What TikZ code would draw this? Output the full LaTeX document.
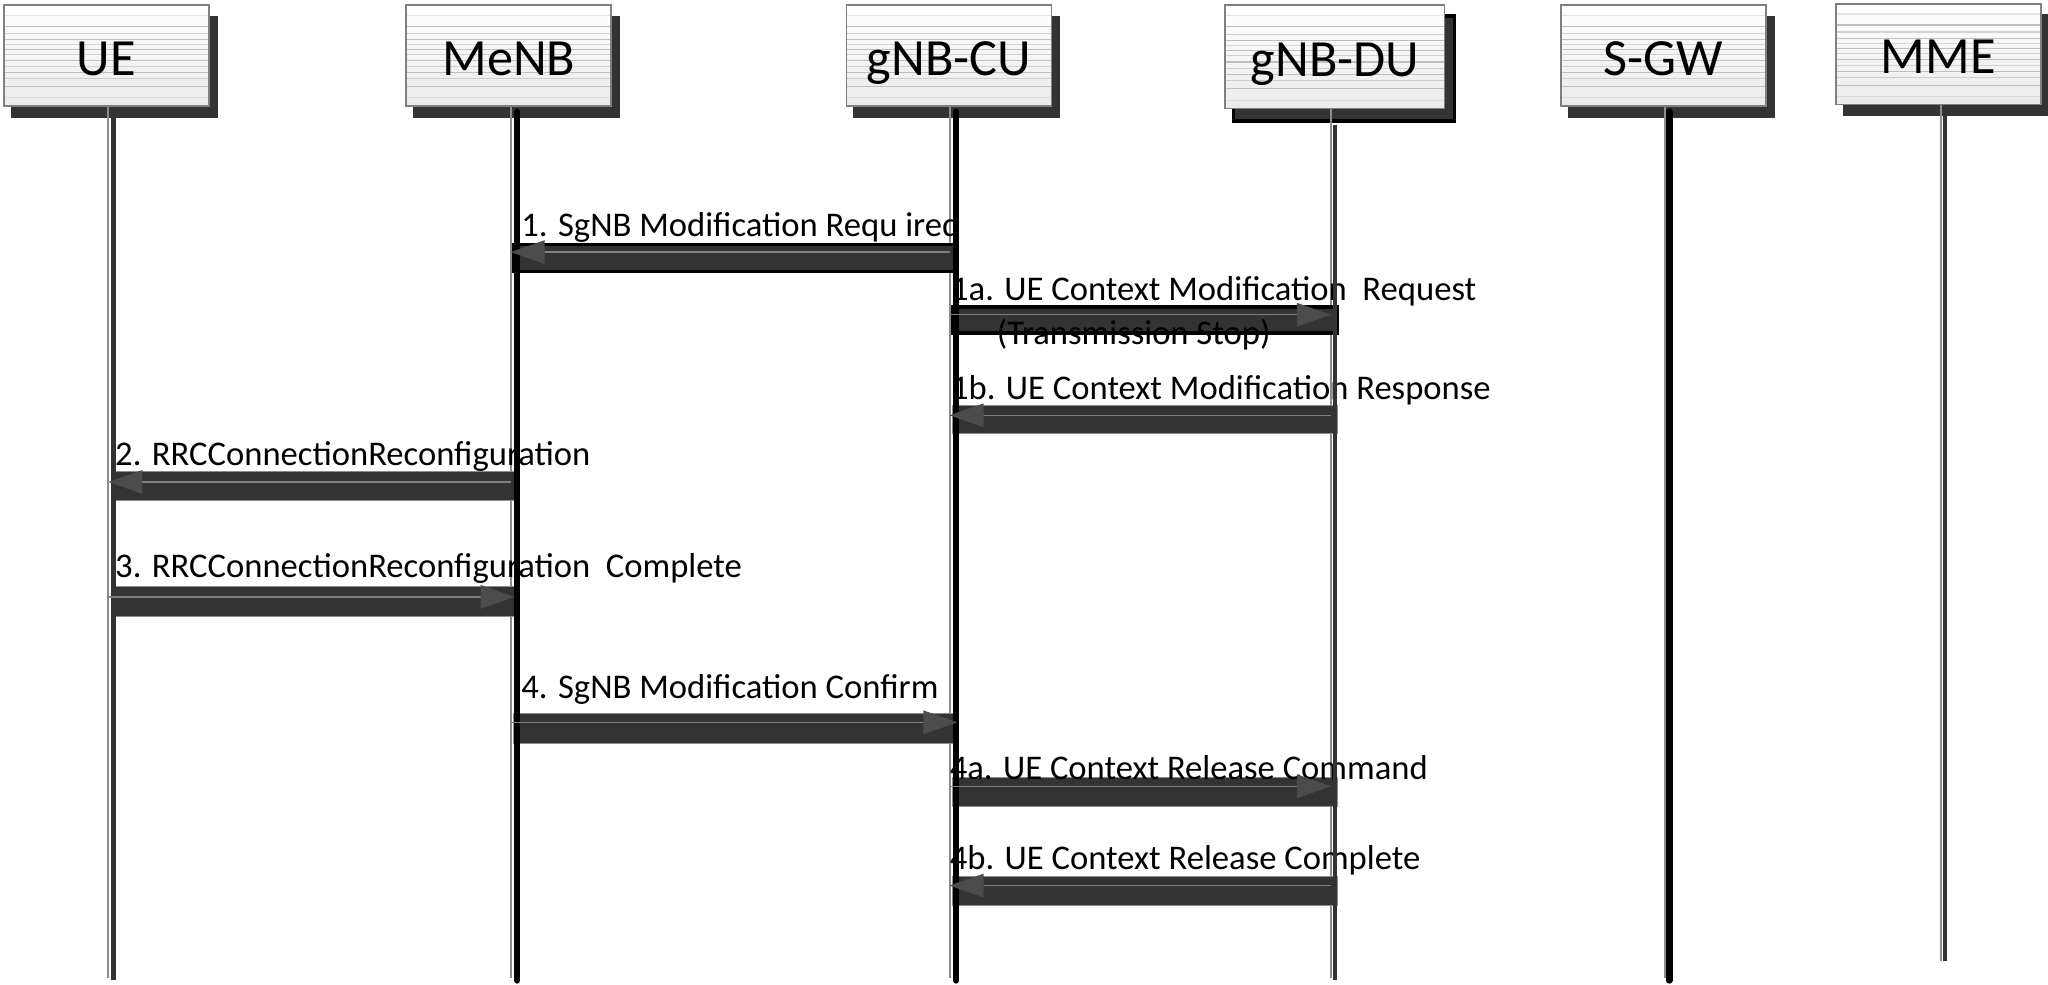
\documentclass[tikz,border=0pt]{standalone}
\usepackage{fontspec}
\setmainfont{Carlito}
\usepackage{tikz}
\usetikzlibrary{arrows.meta}
\usetikzlibrary{calc}
\pgfdeclarelayer{background}
\pgfsetlayers{background,main}

\begin{document}
\begin{tikzpicture}[x=1pt,y=-1pt,
entity/.style={draw=black!50,line width=1.2pt,top color=white,bottom color=black!8,minimum width=157pt,minimum height=77pt,inner sep=0pt,text height=36pt,text depth=6pt,font=\fontsize{40}{40}\selectfont,
 path picture={\foreach \f/\c in {0.1/10,0.21/25,0.28/18,0.34/25,0.39/16,0.44/25,0.49/18,0.55/25,0.61/18,0.67/25,0.73/20,0.81/25,0.92/14}
 \draw[black!\c,line width=0.9pt] ($(path picture bounding box.north west)!\f!(path picture bounding box.south west)$) -- ($(path picture bounding box.north east)!\f!(path picture bounding box.south east)$);}},
shadowbox/.style={fill=black!80},
lifethin/.style={draw=black!45,line width=1.5pt},
lifeblack/.style={draw=black,line width=5pt,line cap=round},
lifegray/.style={draw=black!80,line width=3.5pt},
msgbar/.style={fill=black!80,draw=black!45,line width=0.6pt},
msgbox/.style={fill=black!80,draw=black,line width=2.5pt},
msg/.style={draw=black!50,line width=1pt,-{Triangle[length=26pt,width=18pt,color=black!70]}},
lab/.style={anchor=base west,inner sep=0pt,font=\fontsize{26.5}{26.5}\selectfont}]
\useasboundingbox (0,0) rectangle (1568,753.4);

% heads
\node[entity] (ue) at (81.5,42.5) {UE};
\node[entity] (menb) at (389.5,42.5) {MeNB};
\node[entity] (cu) at (726.5,42.5) {gNB-CU};
\node[entity,minimum width=168pt,minimum height=79pt] (du) at (1022,43.5) {gNB-DU};
\node[entity] (sgw) at (1273.5,42.5) {S-GW};
\node[entity] (mme) at (1484,41.5) {MME};

\begin{pgfonlayer}{background}
\fill[shadowbox] ([shift={(6,8.5)}]ue.south west) rectangle ([shift={(6,8.5)}]ue.north east);
\fill[shadowbox] ([shift={(6,8.5)}]menb.south west) rectangle ([shift={(6,8.5)}]menb.north east);
\fill[shadowbox] ([shift={(6,8.5)}]cu.south west) rectangle ([shift={(6,8.5)}]cu.north east);
\filldraw[shadowbox,draw=black,line width=3pt] ([shift={(7,9)}]du.south west) rectangle ([shift={(7,9)}]du.north east);
\fill[shadowbox] ([shift={(6,8.5)}]sgw.south west) rectangle ([shift={(6,8.5)}]sgw.north east);
\fill[shadowbox] ([shift={(6,8.5)}]mme.south west) rectangle ([shift={(6,8.5)}]mme.north east);
\end{pgfonlayer}

% lifelines
\coordinate (ue-l) at ([xshift=1.5pt]ue.south);
\coordinate (menb-l) at ([xshift=1.5pt]menb.south);
\coordinate (cu-l) at ([xshift=0.5pt]cu.south);
\coordinate (du-l) at ([xshift=-3pt]du.south);
\coordinate (sgw-l) at ([xshift=1.5pt]sgw.south);
\coordinate (mme-l) at ([xshift=2pt]mme.south);
\draw[lifethin] (ue-l) -- ++(0,667);
\draw[lifethin] (menb-l) -- ++(0,667);
\draw[lifethin] (cu-l) -- ++(0,667);
\draw[lifethin] (du-l) -- ++(0,665);
\draw[lifethin] (sgw-l) -- ++(0,667);
\draw[lifethin] (mme-l) -- ++(0,655);

% message bars
\filldraw[msgbox] ([xshift=2pt]menb-l |- 0,187) rectangle ([xshift=5pt]cu-l |- 0,208);
\filldraw[msgbox] ([xshift=2pt]cu-l |- 0,235) rectangle ([xshift=5pt]du-l |- 0,255);
\filldraw[msgbar] ([xshift=2pt]cu-l |- 0,310) rectangle ([xshift=5pt]du-l |- 0,332);
\filldraw[msgbar] ([xshift=2pt]ue-l |- 0,361) rectangle ([xshift=6pt]menb-l |- 0,383);
\filldraw[msgbar] ([xshift=2pt]ue-l |- 0,449) rectangle ([xshift=6pt]menb-l |- 0,472);
\filldraw[msgbar] ([xshift=2pt]menb-l |- 0,546) rectangle ([xshift=7pt]cu-l |- 0,569);
\filldraw[msgbar] ([xshift=2pt]cu-l |- 0,595) rectangle ([xshift=5pt]du-l |- 0,617);
\filldraw[msgbar] ([xshift=2pt]cu-l |- 0,671) rectangle ([xshift=5pt]du-l |- 0,693);

% labels
\node[lab] (t1) at (399,181) {1. SgNB Modification Requ ired};
\node[lab] (t1a) at (728,230) {1a. UE Context Modification~~Request};
\node[lab,anchor=base] (t1a2) at (868,263.5) {(Transmission Stop)};
\node[lab] (t1b) at (728,305.5) {1b. UE Context Modification Response};
\node[lab] (t2) at (88,356.5) {2. RRCConnectionReconfiguration};
\node[lab] (t3) at (88,442.5) {3. RRCConnectionReconfiguration~~Complete};
\node[lab] (t4) at (399,534.5) {4. SgNB Modification Confirm};
\node[lab] (t4a) at (727,596.5) {4a. UE Context Release Command};
\node[lab] (t4b) at (727,665.5) {4b. UE Context Release Complete};

\draw[lifegray,line width=4pt] ([shift={(4,8)}]ue-l) -- ++(0,661);
\draw[lifeblack] ([shift={(5,4)}]menb-l) -- ++(0,665);
\draw[lifeblack] ([shift={(5,4)}]cu-l) -- ++(0,665);
\draw[lifegray] ([shift={(3,12)}]du-l) -- ++(0,655);
\draw[lifeblack] ([shift={(3,4)}]sgw-l) -- ++(0,665);
\draw[lifegray] ([shift={(3,8)}]mme-l) -- ++(0,647);

% messages
\draw[msg] (cu-l |- 0,193) -- (menb-l |- 0,193);
\draw[msg] (cu-l |- 0,241) -- (du-l |- 0,241);
\draw[msg] (du-l |- 0,318) -- (cu-l |- 0,318);
\draw[msg] (menb-l |- 0,369) -- (ue-l |- 0,369);
\draw[msg] (ue-l |- 0,457) -- ([xshift=3pt]menb-l |- 0,457);
\draw[msg] (menb-l |- 0,553) -- ([xshift=6pt]cu-l |- 0,553);
\draw[msg] (cu-l |- 0,602) -- (du-l |- 0,602);
\draw[msg] (du-l |- 0,678) -- (cu-l |- 0,678);
\end{tikzpicture}
\end{document}
